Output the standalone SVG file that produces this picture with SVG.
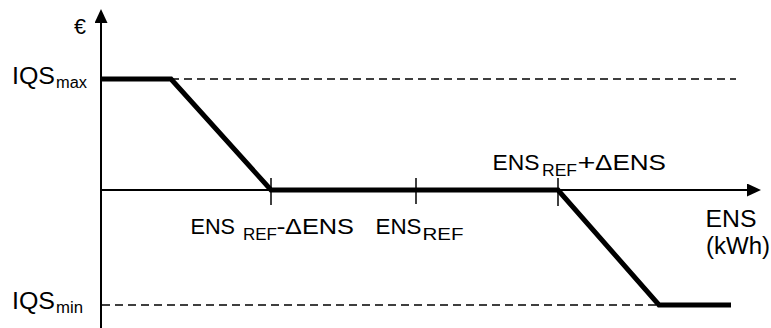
<svg xmlns="http://www.w3.org/2000/svg" width="771" height="328" viewBox="0 0 771 328">
<style>
  .t { font-family: "Liberation Sans", Arial, sans-serif; font-size: 21.5px; fill: #000; }
  .b { font-family: "Liberation Sans", Arial, sans-serif; font-size: 23.5px; fill: #000; }
  .s { font-family: "Liberation Sans", Arial, sans-serif; font-size: 16px; fill: #000; }
  .axis { stroke: #000; stroke-width: 2; fill: none; }
  .tick { stroke: #000; stroke-width: 1.5; fill: none; }
  .dash { stroke: #000; stroke-width: 1.5; stroke-dasharray: 8 5; fill: none; }
  .curve { stroke: #000; stroke-width: 5; fill: none; stroke-linejoin: miter; }
</style>
<defs>
  <marker id="arr" viewBox="0 0 14 13" refX="0" refY="6.5" markerWidth="14" markerHeight="13" markerUnits="userSpaceOnUse" orient="auto">
    <path d="M0,0 L14,6.5 L0,13 Z" fill="#000"/>
  </marker>
</defs>
<rect width="771" height="328" fill="#fff"/>
<g id="axes">
  <line class="axis" x1="101" y1="328" x2="101" y2="23" marker-end="url(#arr)"/>
  <line class="axis" x1="101" y1="190" x2="747" y2="190" marker-end="url(#arr)"/>
</g>
<g id="guides">
  <line class="dash" x1="171" y1="79" x2="736" y2="79"/>
  <line class="dash" x1="102" y1="305" x2="659" y2="305"/>
</g>
<g id="ticks">
  <line class="tick" x1="271" y1="178" x2="271" y2="205"/>
  <line class="tick" x1="416" y1="178" x2="416" y2="204"/>
  <line class="tick" x1="558" y1="178" x2="558" y2="206"/>
</g>
<g id="curve">
  <polyline class="curve" points="101,79 171,79 271,190 558,190 659,305 731,305"/>
</g>
<g id="labels">
  <text class="t" x="74" y="34">€</text>
  <text class="b" x="12" y="84" textLength="43" lengthAdjust="spacingAndGlyphs">IQS</text>
  <text class="s" x="56" y="88" textLength="31" lengthAdjust="spacingAndGlyphs">max</text>
  <text class="b" x="12" y="309" textLength="43" lengthAdjust="spacingAndGlyphs">IQS</text>
  <text class="s" x="56" y="313" textLength="27" lengthAdjust="spacingAndGlyphs">min</text>

  <text class="t" x="190.5" y="234" textLength="44.5" lengthAdjust="spacingAndGlyphs">ENS</text>
  <text class="s" x="243" y="240" textLength="34" lengthAdjust="spacingAndGlyphs">REF</text>
  <text class="t" x="276.5" y="234" textLength="9" lengthAdjust="spacingAndGlyphs">-</text>
  <text class="t" x="285" y="234" textLength="69" lengthAdjust="spacingAndGlyphs">ΔENS</text>

  <text class="t" x="375.5" y="234" textLength="46" lengthAdjust="spacingAndGlyphs">ENS</text>
  <text class="s" x="422.5" y="240" textLength="41" lengthAdjust="spacingAndGlyphs">REF</text>

  <text class="t" x="492.5" y="170" textLength="47" lengthAdjust="spacingAndGlyphs">ENS</text>
  <text class="s" x="542" y="176" textLength="35" lengthAdjust="spacingAndGlyphs">REF</text>
  <text class="t" x="577.5" y="170" textLength="18" lengthAdjust="spacingAndGlyphs">+</text>
  <text class="t" x="595" y="170" textLength="71" lengthAdjust="spacingAndGlyphs">ΔENS</text>

  <text class="b" x="705.5" y="227" textLength="51" lengthAdjust="spacingAndGlyphs">ENS</text>
  <text class="b" x="706" y="254" textLength="64" lengthAdjust="spacingAndGlyphs">(kWh)</text>
</g>
</svg>
